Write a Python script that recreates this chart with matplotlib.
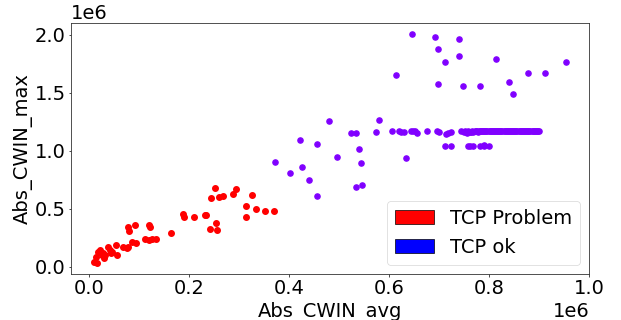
import matplotlib
matplotlib.use("Agg")
import matplotlib.pyplot as plt
import matplotlib.patches as mpatches
import numpy as np

# --- data (values in units of 1e6) ---
problem_avg = [0.009, 0.015, 0.014, 0.018, 0.022, 0.026, 0.029, 0.027, 0.032, 0.037,
               0.042, 0.043, 0.045, 0.054, 0.055, 0.067, 0.075, 0.078, 0.078, 0.080,
               0.085, 0.092, 0.093, 0.111, 0.119, 0.122, 0.119, 0.125, 0.133, 0.164,
               0.187, 0.189, 0.210, 0.232, 0.234, 0.241, 0.243, 0.251, 0.254, 0.255,
               0.260, 0.267, 0.288, 0.294, 0.313, 0.313, 0.325, 0.333, 0.351, 0.369]
problem_max = [0.043, 0.029, 0.086, 0.129, 0.144, 0.100, 0.072, 0.115, 0.100, 0.172,
               0.144, 0.115, 0.129, 0.186, 0.100, 0.167, 0.158, 0.167, 0.344, 0.310,
               0.215, 0.359, 0.206, 0.236, 0.359, 0.344, 0.230, 0.236, 0.236, 0.293,
               0.453, 0.425, 0.431, 0.444, 0.444, 0.321, 0.588, 0.678, 0.379, 0.315,
               0.602, 0.611, 0.623, 0.672, 0.522, 0.431, 0.617, 0.499, 0.476, 0.476]

ok_avg = [0.646, 0.691, 0.739, 0.698, 0.739, 0.711, 0.814, 0.953, 0.613, 0.877,
          0.912, 0.698, 0.748, 0.781, 0.839, 0.847, 0.479, 0.580, 0.422, 0.456,
          0.523, 0.533, 0.574, 0.540, 0.495, 0.543, 0.633, 0.402, 0.425, 0.439,
          0.455, 0.534, 0.546, 0.371,
          # upper band
          0.605, 0.619, 0.623, 0.630, 0.644, 0.648, 0.652, 0.655, 0.676, 0.695,
          0.700, 0.713, 0.718, 0.724, 0.744, 0.749, 0.752, 0.754, 0.756, 0.758,
          0.761, 0.763, 0.766, 0.768, 0.771, 0.773, 0.775, 0.777, 0.779, 0.782,
          0.784, 0.786, 0.788, 0.790, 0.792, 0.794, 0.796, 0.799, 0.801, 0.803,
          0.805, 0.807, 0.809, 0.811, 0.813, 0.816, 0.818, 0.820, 0.822, 0.824,
          0.826, 0.829, 0.831, 0.833, 0.835, 0.837, 0.839, 0.841, 0.843, 0.846,
          0.848, 0.850, 0.852, 0.854, 0.856, 0.859, 0.861, 0.863, 0.865, 0.867,
          0.869, 0.872, 0.874, 0.876, 0.878, 0.880, 0.882, 0.885, 0.887, 0.889,
          0.891, 0.893, 0.895, 0.898, 0.900,
          # lower band
          0.711, 0.724, 0.757, 0.762, 0.767, 0.782, 0.789, 0.800, 0.789]
ok_max = [2.005, 1.979, 1.961, 1.876, 1.812, 1.761, 1.790, 1.767, 1.652, 1.670,
          1.673, 1.572, 1.554, 1.560, 1.589, 1.492, 1.256, 1.268, 1.092, 1.061,
          1.151, 1.151, 1.162, 1.010, 0.943, 0.895, 0.935, 0.804, 0.860, 0.749,
          0.611, 0.683, 0.705, 0.903,
          # upper band
          1.166, 1.166, 1.164, 1.160, 1.166, 1.168, 1.166, 1.154, 1.166, 1.166,
          1.162, 1.143, 1.154, 1.164, 1.166, 1.164, 1.166, 1.160, 1.156, 1.168,
          1.164, 1.162, 1.168, 1.164, 1.170, 1.166, 1.168, 1.164, 1.170, 1.166,
          1.168, 1.166, 1.170, 1.166, 1.168, 1.166, 1.166, 1.168, 1.166, 1.166,
          1.168, 1.166, 1.166, 1.166, 1.168, 1.166, 1.166, 1.168, 1.166, 1.166,
          1.168, 1.166, 1.166, 1.168, 1.166, 1.170, 1.166, 1.166, 1.168, 1.166,
          1.166, 1.168, 1.166, 1.166, 1.170, 1.166, 1.168, 1.166, 1.166, 1.168,
          1.166, 1.166, 1.168, 1.166, 1.166, 1.168, 1.166, 1.166, 1.168, 1.166,
          1.166, 1.168, 1.166, 1.166, 1.166,
          # lower band
          1.041, 1.041, 1.041, 1.041, 1.041, 1.041, 1.041, 1.041, 1.052]

legend_labels = ["TCP Problem", "TCP ok"]
legend_colors = ["red", "blue"]

plt.rcParams['font.family'] = ['DejaVu Sans']
plt.rcParams['font.size'] = 14

fig = plt.figure(figsize=(6.21, 3.2), dpi=100)
ax = fig.add_axes([70.7 / 621, 1 - 274.3 / 320, (589.3 - 70.7) / 621, (274.3 - 22.7) / 320])

ax.scatter(np.array(ok_avg) * 1e6, np.array(ok_max) * 1e6, s=14, color="#8000ff")
ax.scatter(np.array(problem_avg) * 1e6, np.array(problem_max) * 1e6, s=16, color="#ff0000")

ax.set_xlim(-0.0366e6, 1.0e6)
ax.set_ylim(-0.065e6, 2.102e6)
ax.set_xticks([0, 0.2e6, 0.4e6, 0.6e6, 0.8e6, 1.0e6])
ax.set_yticks([0, 0.5e6, 1.0e6, 1.5e6, 2.0e6])

ax.tick_params(labelsize=14, length=1.8, width=0.5, pad=1.8)
for sp in ax.spines.values():
    sp.set_linewidth(0.6)
    sp.set_color("#333333")

ax.set_xlabel("Abs_CWIN_avg", fontsize=14, labelpad=2.8)
ax.set_ylabel("Abs_CWIN_max", fontsize=14, labelpad=1.5)
ax.xaxis.get_offset_text().set_fontsize(14)
ax.yaxis.get_offset_text().set_fontsize(14)

handles = [mpatches.Patch(facecolor=c, edgecolor="black", linewidth=0.5, label=l)
           for c, l in zip(legend_colors, legend_labels)]
leg = ax.legend(handles=handles, loc="lower right", fontsize=14)
leg.get_frame().set_linewidth(0.5)

fig.savefig("out.png", dpi=100)
